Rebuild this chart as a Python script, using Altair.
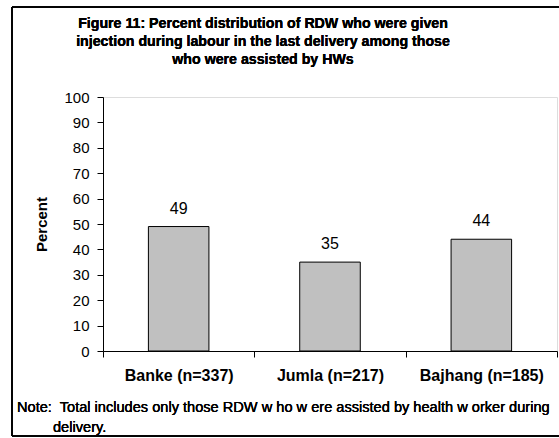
import altair as alt
import pandas as pd

# Districts and the share of recently delivered women (RDW) given an injection
districts = ["Banke (n=337)", "Jumla (n=217)", "Bajhang (n=185)"]
percent = [49, 35, 44]
y_ticks = [0, 10, 20, 30, 40, 50, 60, 70, 80, 90, 100]

df = pd.DataFrame({"district": districts, "percent": percent})

FONT = "Liberation Sans"
W, H = 454, 254

title_lines = [
    "Figure 11: Percent distribution of RDW who were given",
    "injection during labour in the last delivery among those",
    "who were assisted by HWs",
]
note_line1 = "Note:\u00a0 Total includes only those RDW w ho w ere assisted by health w orker during"
note_line2 = "delivery."

x_enc = alt.X(
    "district:N",
    sort=districts,
    title=None,
    scale=alt.Scale(paddingInner=0, paddingOuter=0),
    axis=alt.Axis(
        labelAngle=0,
        labelFont=FONT,
        labelFontSize=16,
        labelFontWeight="bold",
        labelColor="black",
        labelPadding=10,
        tickBand="extent",
        tickSize=6,
        tickColor="black",
        domainColor="black",
        grid=False,
    ),
)
y_enc = alt.Y(
    "percent:Q",
    title="Percent",
    scale=alt.Scale(domain=[0, 100], nice=False),
    axis=alt.Axis(
        values=y_ticks,
        tickCount=11,
        labelOverlap=False,
        labelFont=FONT,
        labelFontSize=15,
        labelColor="black",
        labelPadding=8,
        tickSize=6,
        tickColor="black",
        domainColor="black",
        grid=False,
        titleFont=FONT,
        titleFontSize=15,
        titleFontWeight="bold",
        titleColor="black",
        titlePadding=14,
    ),
)

base = alt.Chart(df).encode(x=x_enc, y=y_enc)

bars = base.mark_bar(
    width=alt.RelativeBandSize(0.4),
    color="#C0C0C0",
    stroke="black",
    strokeWidth=1,
)

values = base.mark_text(
    font=FONT, fontSize=16, fontWeight="normal", color="black", baseline="bottom", dy=-10
).encode(text="percent:Q")

# Outer frame: top, left and bottom edges, running off the page on the right
frame_top = alt.Chart(df).mark_rule(color="black", strokeWidth=1.5).encode(
    x=alt.value(-91), x2=alt.value(470), y=alt.value(-90)
)
frame_left = alt.Chart(df).mark_rule(color="black", strokeWidth=1.5).encode(
    x=alt.value(-91), y=alt.value(-90), y2=alt.value(339)
)
frame_bottom = alt.Chart(df).mark_rule(color="black", strokeWidth=1.5).encode(
    x=alt.value(-91), x2=alt.value(470), y=alt.value(339)
)

# Three-line bold heading
heading = alt.Chart(df).mark_text(
    font=FONT, fontSize=14.2, fontWeight="bold", color="black",
    align="center", baseline="middle", lineHeight=18,
).encode(x=alt.value(160), y=alt.value(-73), text=alt.value(title_lines))

note1 = alt.Chart(df).mark_text(
    font=FONT, fontSize=14.6, fontWeight="normal", color="black",
    align="left", baseline="middle",
).encode(x=alt.value(-86), y=alt.value(H + 57), text=alt.value(note_line1))

note2 = alt.Chart(df).mark_text(
    font=FONT, fontSize=14.6, fontWeight="normal", color="black",
    align="left", baseline="middle",
).encode(x=alt.value(-50), y=alt.value(H + 77), text=alt.value(note_line2))

chart = (
    alt.layer(frame_top, frame_left, frame_bottom, bars, values, heading, note1, note2)
    .properties(
        width=W,
        height=H,
        autosize=alt.AutoSizeParams(type="none"),
        padding={"left": 103, "top": 97, "right": 2, "bottom": 87},
    )
    .configure_view(stroke=None)
    .configure(background="white")
)

chart.save("out.html", embed_options={"renderer": "svg", "actions": False})
